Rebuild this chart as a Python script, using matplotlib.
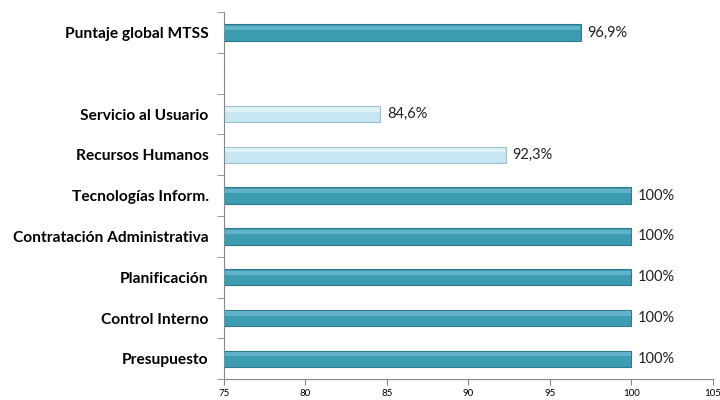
import numpy as np
import matplotlib.pyplot as plt

plt.rcParams['font.family'] = ['Lato', 'DejaVu Sans']

# categories from bottom to top (empty slot separates the global score)
categories = ["Presupuesto", "Control Interno", "Planificación",
              "Contratación Administrativa", "Tecnologías Inform.",
              "Recursos Humanos", "Servicio al Usuario", "",
              "Puntaje global MTSS"]
values = [100, 100, 100, 100, 100, 92.3, 84.6, np.nan, 96.9]
value_labels = ["100%", "100%", "100%", "100%", "100%", "92,3%", "84,6%", "", "96,9%"]
light = [False, False, False, False, False, True, True, False, False]

dark_col = "#3C9CB2"
light_col = "#C6E7F1"
colors = [light_col if l else dark_col for l in light]
edges = ["#9CC0CC" if l else "#2F7A8C" for l in light]

fig = plt.figure(figsize=(7.2, 4.0), dpi=100)
ax = fig.add_axes([0.311, 0.052, 0.679, 0.918])

y = np.arange(len(categories))
vals = np.nan_to_num(values, nan=75)
widths = vals - 75
ax.barh(y, widths, left=75, height=0.4, color=colors,
        edgecolor=edges, linewidth=0.8)
# soft highlight along the top of each bar
hl = ["#DDF1F7" if l else "#62B3C7" for l in light]
ax.barh(y + 0.11, widths - 0.05, left=75.02, height=0.1, color=hl, linewidth=0)

for yi, v, lab in zip(y, vals, value_labels):
    if lab:
        ax.text(v + 0.4, yi, lab, va="center", ha="left", fontsize=10.5,
                color="#222222")

ax.set_xlim(75, 105)
ax.set_ylim(-0.5, len(categories) - 0.5)
ax.set_xticks(np.arange(75, 106, 5))
ax.tick_params(axis="x", labelsize=7, length=4, color="#888888", pad=3)
ax.set_yticks(y)
ax.set_yticklabels(categories, fontsize=11.2, fontweight="bold")
ax.set_yticks(np.arange(-0.5, len(categories), 1), minor=True)
ax.tick_params(axis="y", which="major", length=0, pad=11)
ax.tick_params(axis="y", which="minor", length=5, color="#888888")

for s in ["top", "right"]:
    ax.spines[s].set_visible(False)
for s in ["left", "bottom"]:
    ax.spines[s].set_color("#888888")

fig.savefig("out.png", dpi=100)
